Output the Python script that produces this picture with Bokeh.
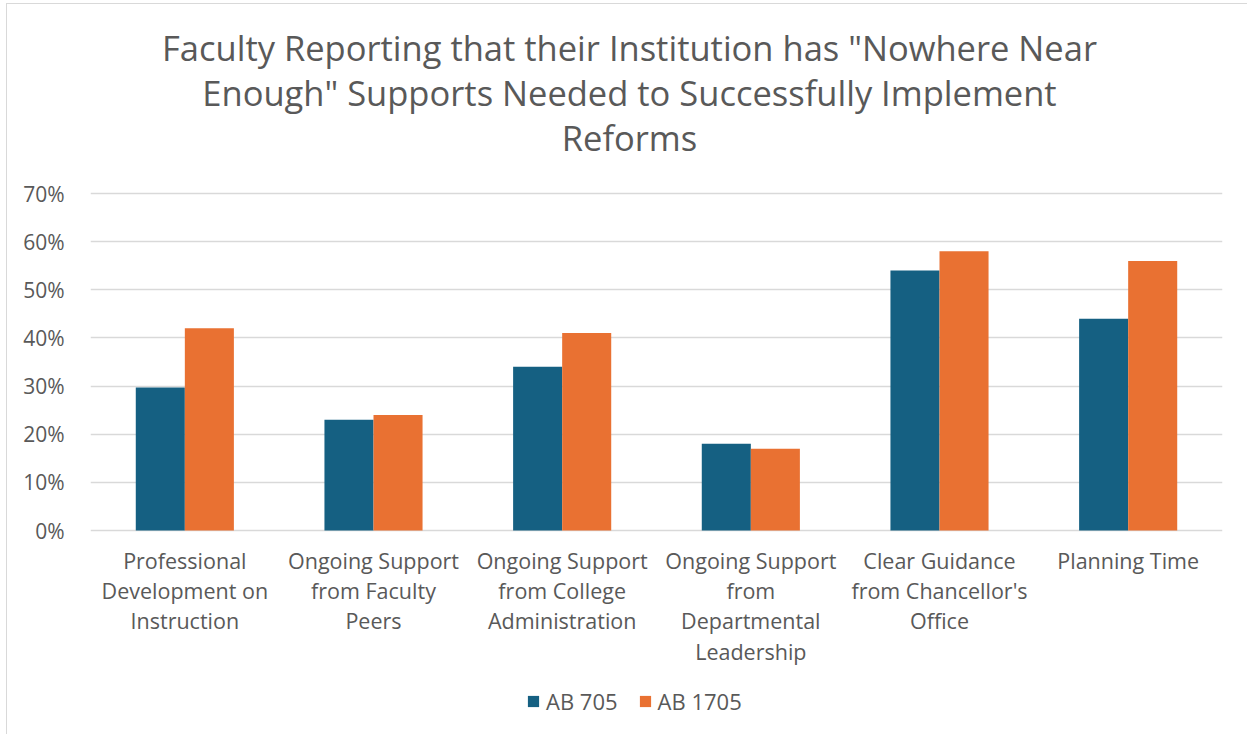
from bokeh.plotting import figure
from bokeh.models import (FactorRange, Range1d, NumeralTickFormatter, Legend,
                          LegendItem, ColumnDataSource, FixedTicker, Label)
from bokeh.transform import dodge
from bokeh.embed import file_html
from bokeh.resources import INLINE

# Survey items (x categories) and their wrapped axis labels
categories = [
    "Professional Development on Instruction",
    "Ongoing Support from Faculty Peers",
    "Ongoing Support from College Administration",
    "Ongoing Support from Departmental Leadership",
    "Clear Guidance from Chancellor's Office",
    "Planning Time",
]
category_labels = [
    "Professional\nDevelopment on\nInstruction",
    "Ongoing Support\nfrom Faculty\nPeers",
    "Ongoing Support\nfrom College\nAdministration",
    "Ongoing Support\nfrom\nDepartmental\nLeadership",
    "Clear Guidance\nfrom Chancellor's\nOffice",
    "Planning Time",
]

# Share of faculty answering "Nowhere Near Enough"
ab705 = [0.297, 0.23, 0.34, 0.18, 0.54, 0.44]
ab1705 = [0.42, 0.24, 0.41, 0.17, 0.58, 0.56]
series_names = ["AB 705", "AB 1705"]

y_ticks = [0.0, 0.1, 0.2, 0.3, 0.4, 0.5, 0.6, 0.7]

title_lines = [
    'Faculty Reporting that their Institution has "Nowhere Near',
    'Enough" Supports Needed to Successfully Implement',
    'Reforms',
]

FONT = "Open Sans"
GREY = "#595959"
GRID = "#d9d9d9"
BLUE = "#156082"
ORANGE = "#E97132"

source = ColumnDataSource(data=dict(cat=categories, ab705=ab705, ab1705=ab1705))

# The plot frame spans the full height so that title, category labels and
# legend can sit inside it; the value axis only ticks 0-70%.
p = figure(
    width=1241, height=731,
    x_range=FactorRange(*categories, range_padding=0.0),
    y_range=Range1d(-0.4258, 1.0926),
    x_axis_location=None,
    output_backend="svg", toolbar_location=None,
    min_border_left=83, min_border_right=26,
    min_border_top=0, min_border_bottom=0,
    margin=(3, 0, 0, 6),
    styles={"border-left": "1px solid #d9d9d9", "border-top": "1px solid #d9d9d9"},
)
p.title.visible = False

bw = 0.26
r1 = p.vbar(x=dodge("cat", -bw / 2, range=p.x_range), top="ab705", width=bw,
            source=source, color=BLUE, line_color=None)
r2 = p.vbar(x=dodge("cat", bw / 2, range=p.x_range), top="ab1705", width=bw,
            source=source, color=ORANGE, line_color=None)

p.outline_line_color = None
p.xgrid.grid_line_color = None
p.ygrid.grid_line_color = GRID
p.ygrid.grid_line_width = 1.5
p.ygrid.ticker = FixedTicker(ticks=y_ticks)
p.ygrid.level = "underlay"

p.yaxis.ticker = FixedTicker(ticks=y_ticks)
p.yaxis.formatter = NumeralTickFormatter(format="0%")
p.yaxis.axis_line_color = None
p.yaxis.major_tick_line_color = None
p.yaxis.minor_tick_line_color = None
p.yaxis.major_label_text_font = FONT
p.yaxis.major_label_text_font_size = "21px"
p.yaxis.major_label_text_color = GREY
p.yaxis.major_label_standoff = 20

# Title, three centred lines
for i, line in enumerate(title_lines):
    p.add_layout(Label(x=539, y=688 - 45 * i, x_units="screen", y_units="screen",
                       text=line, text_align="center", text_baseline="middle",
                       text_font=FONT, text_font_size="34.5px", text_color=GREY))

# Wrapped category labels under each group
for i, lab in enumerate(category_labels):
    p.add_layout(Label(x=i + 0.5, y=0, y_offset=-15, text=lab,
                       text_align="center", text_baseline="top",
                       text_font=FONT, text_font_size="21.5px", text_color=GREY,
                       text_line_height=1.05))

legend = Legend(
    items=[LegendItem(label=series_names[0], renderers=[r1]),
           LegendItem(label=series_names[1], renderers=[r2])],
    orientation="horizontal", location=(436, 19),
    border_line_color=None, background_fill_alpha=0,
    glyph_width=14, glyph_height=14, label_standoff=6, spacing=20,
    label_text_font=FONT, label_text_font_size="22px", label_text_color=GREY,
    margin=0, padding=0,
)
p.add_layout(legend, "center")

open("out.html", "w").write(file_html(p, INLINE))
